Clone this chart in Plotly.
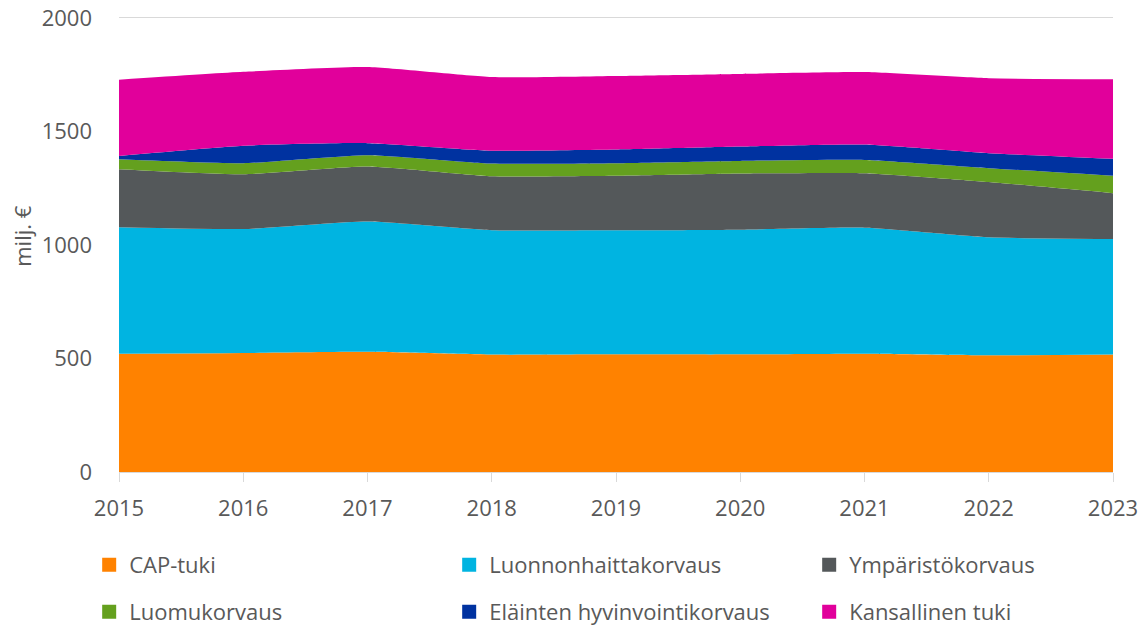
import plotly.graph_objects as go

years = [2015, 2016, 2017, 2018, 2019, 2020, 2021, 2022, 2023]
cap_tuki = [521, 524, 529, 517, 518, 518, 521, 514, 517]
luonnonhaitta = [557, 546, 574, 548, 546, 549, 555, 520, 509]
ymparisto = [255, 241, 242, 237, 240, 247, 240, 243, 202]
luomu = [44, 49, 50, 56, 56, 56, 58, 61, 77]
elainten = [15, 77, 53, 57, 60, 63, 68, 66, 74]
kansallinen = [335, 325, 335, 324, 324, 320, 319, 330, 351]
y_ticks = [0, 500, 1000, 1500, 2000]

series = [
    ("CAP-tuki", cap_tuki, "#FF8200"),
    ("Luonnonhaittakorvaus", luonnonhaitta, "#00B4E1"),
    ("Ympäristökorvaus", ymparisto, "#54585A"),
    ("Luomukorvaus", luomu, "#64A01E"),
    ("Eläinten hyvinvointikorvaus", elainten, "#0032A0"),
    ("Kansallinen tuki", kansallinen, "#E1009B"),
]

FONT = "Open Sans"
TXT = "#595959"
FS = 22

fig = go.Figure()
for name, vals, col in series:
    fig.add_trace(go.Scatter(
        x=years, y=vals, name=name, stackgroup="one",
        mode="lines", line=dict(width=0, color=col, shape="spline", smoothing=0.5),
        fillcolor=col, showlegend=False, hoverinfo="x+y+name",
    ))

for i, (name, vals, col) in enumerate(series):
    fig.add_trace(go.Scatter(
        x=[None], y=[None], name=name, mode="markers",
        marker=dict(symbol="square", size=14, color=col),
        legend="legend" if i < 3 else "legend2",
    ))

leg_common = dict(
    orientation="h", xanchor="left", yanchor="middle", traceorder="normal",
    font=dict(family=FONT, size=FS, color=TXT),
    entrywidth=315, entrywidthmode="pixels",
    bgcolor="rgba(0,0,0,0)", itemclick=False, itemdoubleclick=False,
)

fig.update_layout(
    width=1146, height=628,
    margin=dict(l=119, r=33, t=16, b=156, autoexpand=False),
    paper_bgcolor="white", plot_bgcolor="white",
    font=dict(family=FONT, size=FS, color=TXT),
    legend=dict(x=-0.03, y=-0.204, **leg_common),
    legend2=dict(x=-0.03, y=-0.307, **leg_common),
    xaxis=dict(
        range=[2015, 2023], tickmode="array", tickvals=years,
        ticktext=[str(y) for y in years],
        showgrid=False, zeroline=False, automargin=False,
        showline=True, linecolor="#D9D9D9", linewidth=1,
        ticks="outside", ticklen=9, tickcolor="#D9D9D9",
        tickfont=dict(family=FONT, size=FS, color=TXT),
        ticklabelstandoff=8, ticklabeloverflow="allow",
    ),
    yaxis=dict(
        range=[0, 2008], tickvals=y_ticks,
        showgrid=True, gridcolor="#D9D9D9", gridwidth=1,
        zeroline=False, showline=False, automargin=False,
        tickfont=dict(family=FONT, size=FS, color=TXT),
        ticklabelstandoff=26, ticklabeloverflow="allow",
    ),
    annotations=[dict(
        text="milj. €", textangle=-90, showarrow=False,
        xref="paper", yref="paper", x=-0.0976, y=0.518,
        xanchor="center", yanchor="middle",
        font=dict(family=FONT, size=FS, color=TXT),
    )],
)

fig.write_html(
    "out.html",
    config={"displayModeBar": False},
    post_script="document.body.style.margin='0';document.body.style.overflow='hidden';",
)
